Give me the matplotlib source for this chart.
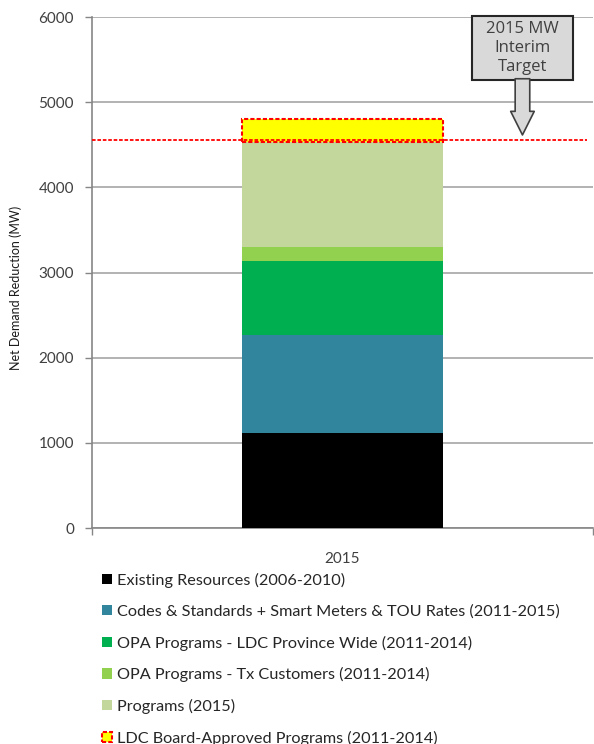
import matplotlib
matplotlib.use("Agg")
import matplotlib.pyplot as plt
from matplotlib.patches import Rectangle

# ---- data ----
categories = ["2015"]
series_labels = [
    "Existing Resources (2006-2010)",
    "Codes & Standards + Smart Meters & TOU Rates (2011-2015)",
    "OPA Programs - LDC Province Wide (2011-2014)",
    "OPA Programs - Tx Customers (2011-2014)",
    "Programs (2015)",
    "LDC Board-Approved Programs (2011-2014)",
]
series_values = [1118, 1147, 872, 165, 1232, 266]
series_colors = ["#000000", "#31859c", "#00b050", "#92d050", "#c3d69b", "#ffff00"]
target_value = 4550
target_label = "2015 MW\nInterim\nTarget"
yticks = [0, 1000, 2000, 3000, 4000, 5000, 6000]

plt.rcParams['font.family'] = ['Lato', 'DejaVu Sans']

fig = plt.figure(figsize=(5.94, 7.44), dpi=100)
ax = fig.add_axes([92/594, 1-528/744, 501/594, (528-17)/744])

x = list(range(len(categories)))
bottom = [0]*len(categories)
handles = []
for i, (lab, val, col) in enumerate(zip(series_labels, series_values, series_colors)):
    if i == len(series_labels) - 1:
        h = ax.bar(x, [val], bottom=bottom, width=1.0, color=col, edgecolor='#ff0000',
                   linewidth=1.5, linestyle=(0, (2, 1)), label=lab, zorder=3)
    else:
        h = ax.bar(x, [val], bottom=bottom, width=1.0, color=col, edgecolor='none',
                   linewidth=0, label=lab, zorder=3)
    handles.append(h)
    bottom = [b + val for b in bottom]

ax.set_xlim(-1.25, 1.25)
ax.set_ylim(0, 6000)
ax.set_yticks(yticks)
ax.set_yticklabels([str(t) for t in yticks], fontsize=11, color='#404040')
ax.set_xticks(x)
ax.set_xticklabels(categories, fontsize=11, color='#404040')
ax.tick_params(axis='x', length=0, pad=17)
ax.set_xticks([-1.25, 1.25], minor=True)
ax.tick_params(axis='x', which='minor', length=5, color='#868686', width=1)
ax.tick_params(axis='y', length=5, color='#868686', width=1, pad=8)

ax.grid(axis='y', color='#a6a6a6', linewidth=1.2, zorder=0)
ax.set_axisbelow(True)
for s in ['top', 'right']:
    ax.spines[s].set_visible(False)
for s in ['left', 'bottom']:
    ax.spines[s].set_color('#868686')
    ax.spines[s].set_linewidth(1.2)

ax.set_ylabel("Net Demand Reduction (MW)", fontsize=9, color='#1a1a1a')
ax.yaxis.set_label_coords(-0.14, 0.47)

# target line
ax.plot([-1.25, 1.22], [target_value, target_value], color='#ff0000', linewidth=1.3,
        linestyle=(0, (2, 1)), zorder=4, clip_on=False)

# callout box
bx0, bx1 = 0.646, 1.150
by0, by1 = 5260, 6010
ax.add_patch(Rectangle((bx0, by0), bx1 - bx0, by1 - by0, facecolor='#d9d9d9',
                       edgecolor='#262626', linewidth=1.5, clip_on=False, zorder=5))
ax.text((bx0 + bx1) / 2, (by0 + by1) / 2, target_label, ha='center', va='center',
        fontsize=12, color='#404040', zorder=6, linespacing=1.28,
        family=['Open Sans', 'DejaVu Sans'])
ax.annotate('', xy=((bx0 + bx1) / 2, target_value + 65), xytext=((bx0 + bx1) / 2, by0 + 15),
            arrowprops=dict(arrowstyle='simple,head_length=17,head_width=17,tail_width=10.5',
                            mutation_scale=1, facecolor='#d9d9d9', edgecolor='#404040',
                            linewidth=1.2, shrinkA=0, shrinkB=0),
            zorder=5, annotation_clip=False)

fig.legend(handles=handles, labels=series_labels, loc='upper left',
           bbox_to_anchor=(102/594, 1-573/744), frameon=False, fontsize=11.7,
           handlelength=0.6, handleheight=0.6, handletextpad=0.3,
           labelspacing=1.02, labelcolor='#262626', borderpad=0, borderaxespad=0)

fig.savefig("out.png", dpi=100)
